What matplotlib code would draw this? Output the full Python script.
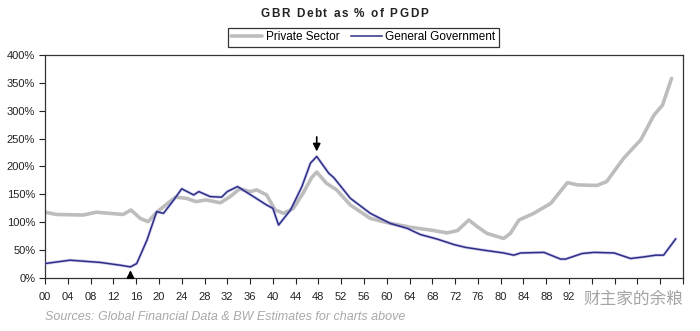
import matplotlib.pyplot as plt
from matplotlib.ticker import FixedLocator, FuncFormatter

# values (year, % of GDP)
gov_years = [1900, 1904.4, 1909.7, 1913.2, 1915, 1916.1, 1917.9, 1919.6, 1920.8, 1922.6,
             1924, 1926.1, 1927, 1929, 1931, 1932, 1933.8, 1936.6, 1938.9, 1940, 1941,
             1943.1, 1945.1, 1946.6, 1947.7, 1949.8, 1950.7, 1953.6, 1957.1, 1960.6,
             1963.6, 1965.9, 1968.8, 1971.8, 1973.8, 1977, 1980.5, 1982.3, 1983.5,
             1987.6, 1990.5, 1991.4, 1994.3, 1996.4, 1999.9, 2002.8, 2005.2, 2007.2,
             2008.6, 2010.7]
gov_vals = [26, 32, 28, 23, 20, 26, 68, 119, 116, 140,
            160, 149, 155, 146, 145, 155, 164, 146, 131, 125, 95,
            122, 164, 206, 218, 188, 180, 143, 116, 98,
            89, 78, 70, 60, 55, 50, 45, 41, 45,
            46, 34, 34, 44, 46, 45, 35, 38, 41,
            41, 70]

priv_years = [1900, 1902, 1906.7, 1909, 1913.7, 1915.1, 1916.7, 1918.1, 1919.6, 1922.9,
              1924.8, 1926.5, 1928.2, 1930.8, 1932.5, 1934.2, 1936, 1937.2, 1938.9,
              1940.4, 1941.9, 1943.6, 1945.3, 1946.8, 1947.7, 1949.4, 1951.2, 1953.6,
              1957.1, 1960.6, 1964.2, 1967.7, 1970.6, 1972.4, 1974.4, 1975.9, 1977.6,
              1980.5, 1981.7, 1983.2, 1985.8, 1988.8, 1991.7, 1993.5, 1996.9, 1998.6,
              2001.6, 2004.6, 2006.9, 2008.4, 2010]
priv_vals = [118, 114, 113, 118, 114, 122, 107, 101, 118, 145,
             143, 137, 140, 135, 146, 160, 155, 158, 149,
             122, 116, 125, 152, 180, 190, 170, 158, 131,
             107, 98, 91, 86, 81, 85, 104, 92, 80,
             71, 80, 104, 116, 134, 171, 167, 166, 173,
             215, 248, 292, 310, 358]

x_ticks = list(range(1900, 2013, 4))
# labels from 96 onwards sit under the watermark in the reference
x_labels = ['%02d' % (y % 100) for y in range(1900, 1993, 4)]
y_ticks = [0, 50, 100, 150, 200, 250, 300, 350, 400]
title = 'GBR Debt as % of PGDP'

plt.rcParams['font.family'] = ['Liberation Sans', 'DejaVu Sans']

fig = plt.figure(figsize=(7, 3.31), dpi=100)
fig.patch.set_facecolor('white')
ax = fig.add_axes([0.0643, 0.160, 0.9114, 0.674])

ax.plot(priv_years, priv_vals, color='#bdbdbd', lw=2.6, solid_capstyle='round',
        label='Private Sector', zorder=2)
ax.plot(gov_years, gov_vals, color='#9c9ce0', lw=2.2, alpha=0.5, zorder=3)
ax.plot(gov_years, gov_vals, color='#2e2e86', lw=1.1, label='General Government', zorder=4)

ax.set_xlim(1900, 2012)
ax.set_ylim(0, 400)
ax.xaxis.set_major_locator(FixedLocator(x_ticks))
ax.set_xticklabels(x_labels + [''] * (len(x_ticks) - len(x_labels)))
ax.set_yticks(y_ticks)
ax.yaxis.set_major_formatter(FuncFormatter(lambda v, p: '%d%%' % v))
ax.tick_params(axis='both', direction='out', length=4, width=0.8, color='#222222',
               labelsize=8, pad=3, labelcolor='#222222')
ax.tick_params(axis='x', pad=6)
for s in ax.spines.values():
    s.set_color('#333333')
    s.set_linewidth(0.9)

# arrows at the 1915 low and the 1947 peak
ax.annotate('', xy=(1915, 19), xytext=(1915, 0),
            arrowprops=dict(arrowstyle='-|>', color='black', lw=1.2, mutation_scale=11))
ax.annotate('', xy=(1947.7, 222), xytext=(1947.7, 258),
            arrowprops=dict(arrowstyle='-|>', color='black', lw=1.2, mutation_scale=11))

# letter-spaced bold title
renderer = fig.canvas.get_renderer()
pieces = []
for ch in title:
    t = fig.text(0, 0.958, ch, fontsize=8.5, fontweight='bold', color='#222222',
                 ha='left', va='center')
    w = 3.0 if ch == ' ' else t.get_window_extent(renderer).width
    pieces.append((t, w))
gap = 1.6
total = sum(w for _, w in pieces) + gap * (len(pieces) - 1)
x = 344 - total / 2
for t, w in pieces:
    t.set_x(x / 700)
    x += w + gap

leg = fig.legend(loc='center', bbox_to_anchor=(0.519, 0.887), ncol=2, fontsize=8.5,
                 frameon=True, fancybox=False, edgecolor='black', handlelength=2.6,
                 handletextpad=0.3, columnspacing=1.0, borderpad=0.3)
leg.get_frame().set_linewidth(0.9)

fig.text(0.064, 0.042, 'Sources: Global Financial Data & BW Estimates for charts above',
         fontsize=9, style='italic', color='#a8a8a8', ha='left', va='center')

fig.text(0.833, 0.095, '财主家的余粮', family=['Noto Sans CJK SC', 'DejaVu Sans'],
         fontsize=12, color='#9a9a9a', alpha=0.9, ha='left', va='center')

fig.savefig('out.png', dpi=100, facecolor='white')
